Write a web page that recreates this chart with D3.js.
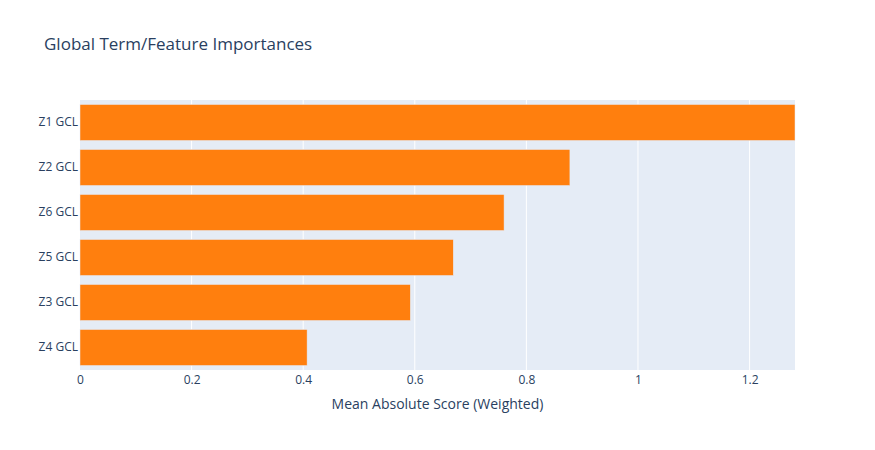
<!DOCTYPE html>
<html><head><meta charset="utf-8">
<script src="https://cdn.jsdelivr.net/npm/d3@7"></script>
<style>body{margin:0;background:#fff;} text{font-family:"Open Sans",verdana,arial,sans-serif;}</style>
</head><body>
<svg id="chart" width="875" height="450"></svg>
<script>
const categories = ["Z4 GCL","Z3 GCL","Z5 GCL","Z6 GCL","Z2 GCL","Z1 GCL"];
const values = [0.407, 0.592, 0.669, 0.760, 0.878, 1.2814];
const xTicks = [0, 0.2, 0.4, 0.6, 0.8, 1, 1.2];
const titleText = "Global Term/Feature Importances";
const xTitle = "Mean Absolute Score (Weighted)";

const W = 875, H = 450, m = {l:80, r:80, t:100, b:80};
const pw = W - m.l - m.r, ph = H - m.t - m.b;
const svg = d3.select("#chart");
const txt = "#2a3f5f";

const x = d3.scaleLinear().domain([0, d3.max(values)]).range([0, pw]);
const y = d3.scaleBand().domain(categories.slice().reverse()).range([0, ph]).paddingInner(0.2).paddingOuter(0.1);

const g = svg.append("g").attr("transform", `translate(${m.l},${m.t})`);
g.append("rect").attr("width", pw).attr("height", ph).attr("fill", "#E5ECF6");

g.selectAll("line.grid").data(xTicks.filter(t => t > 0)).enter().append("line")
  .attr("x1", d => x(d)).attr("x2", d => x(d)).attr("y1", 0).attr("y2", ph)
  .attr("stroke", "#fff").attr("stroke-width", 1);

g.selectAll("rect.bar").data(categories).enter().append("rect")
  .attr("x", 0).attr("y", d => y(d))
  .attr("width", (d, i) => x(values[i])).attr("height", y.bandwidth())
  .attr("fill", "#ff7f0e").attr("stroke", "#E5ECF6").attr("stroke-width", 0.5);

const xAxis = d3.axisBottom(x).tickValues(xTicks).tickSize(0).tickPadding(5).tickFormat(d => d3.format("~g")(d));
const xa = g.append("g").attr("transform", `translate(0,${ph})`).call(xAxis);
xa.select(".domain").remove();
xa.selectAll("text").attr("fill", txt).style("font-size", "12px");

const yAxis = d3.axisLeft(y).tickSize(0).tickPadding(2);
const ya = g.append("g").call(yAxis);
ya.select(".domain").remove();
ya.selectAll("text").attr("fill", txt).style("font-size", "12px");

svg.append("text").attr("x", 44).attr("y", 50).attr("fill", txt)
  .style("font-size", "17px").text(titleText);
svg.append("text").attr("x", m.l + pw/2).attr("y", 409).attr("text-anchor", "middle")
  .attr("fill", txt).style("font-size", "14px").text(xTitle);
</script>
</body></html>
